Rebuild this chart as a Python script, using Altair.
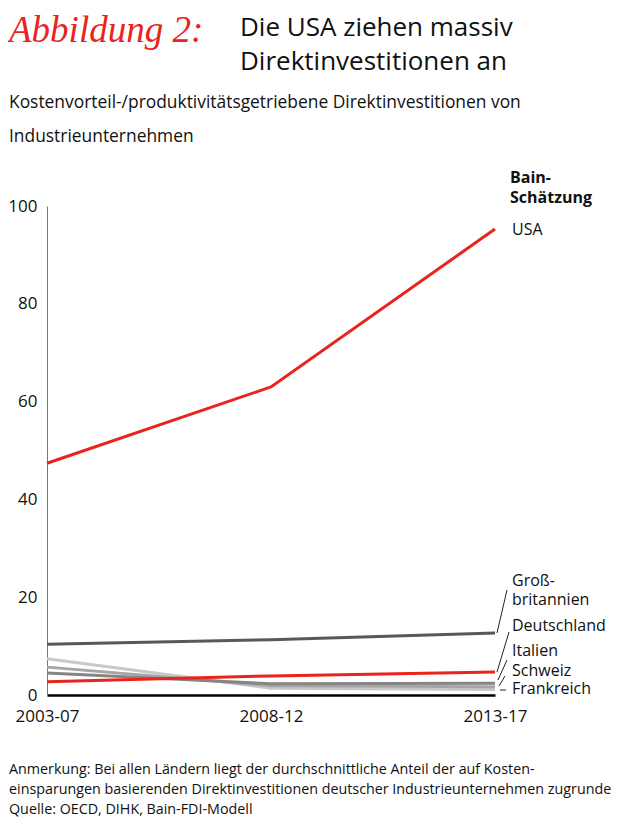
import altair as alt
import pandas as pd

periods = ["2003-07", "2008-12", "2013-17"]
series_names = ["USA", "Großbritannien", "Deutschland", "Italien", "Schweiz", "Frankreich"]
usa = [47.4, 63.0, 95.3]
grossbritannien = [10.4, 11.3, 12.7]
deutschland = [2.7, 3.9, 4.7]
italien = [4.5, 2.3, 2.4]
schweiz = [5.7, 1.9, 1.7]
frankreich = [7.4, 1.4, 1.1]
colors = ["#e8241c", "#595959", "#e8241c", "#858585", "#a6a6a6", "#c8c8c8"]
draw_order = [5, 3, 4, 2, 1, 0]

values = [usa, grossbritannien, deutschland, italien, schweiz, frankreich]

FONT = "Open Sans"
W, H = 448, 489

x_enc = alt.X("period:N", sort=periods,
              scale=alt.Scale(type="point", padding=0),
              axis=alt.Axis(title=None, labelAngle=0, ticks=False, labelPadding=13,
                            labelFontSize=17, labelFont=FONT, labelColor="#111",
                            domainColor="#000", domainWidth=2.5))
y_enc = alt.Y("value:Q", scale=alt.Scale(domain=[0, 100]),
              axis=alt.Axis(title=None, values=[0, 20, 40, 60, 80, 100], ticks=False,
                            grid=False, labelPadding=10, labelFontSize=17, labelFont=FONT,
                            labelColor="#111", domainColor="#777", domainWidth=1))

layers = []
for name, vals, col, order in sorted(zip(series_names, values, colors, draw_order), key=lambda t: t[3]):
    d = pd.DataFrame({"series": name, "period": periods, "value": vals})
    layers.append(alt.Chart(d).mark_line(strokeWidth=3, color=col).encode(x=x_enc, y=y_enc))

# right-side labels (pixel positions in plot coordinates)
lab_text = ["USA", "Groß-", "britannien", "Deutschland", "Italien", "Schweiz", "Frankreich"]
lab_y = [24, 375, 394, 420, 445, 465, 483]
labels = alt.Chart(pd.DataFrame({"t": lab_text, "py": lab_y})).mark_text(
    align="left", baseline="middle", font=FONT, fontSize=16, color="#111").encode(
    x=alt.value(465), y=alt.Y("py:Q", scale=None), text="t:N")

bain = alt.Chart(pd.DataFrame({"t": ["Bain-", "Schätzung"], "py": [-28, -8]})).mark_text(
    align="left", baseline="middle", font=FONT, fontSize=16, fontWeight="bold", color="#111").encode(
    x=alt.value(463), y=alt.Y("py:Q", scale=None), text="t:N")

leader = pd.DataFrame({
    "x1": [450, 450, 451, 452, 453],
    "y1": [427, 466, 474, 480, 484],
    "x2": [460, 462, 460, 458, 459],
    "y2": [384, 426, 454, 470, 484],
})
leaders = alt.Chart(leader).mark_rule(color="#222", strokeWidth=1).encode(
    x=alt.X("x1:Q", scale=None), y=alt.Y("y1:Q", scale=None),
    x2="x2:Q", y2="y2:Q")

abb = alt.Chart(pd.DataFrame({"t": ["Abbildung 2:"]})).mark_text(
    align="left", baseline="middle", font="Liberation Serif", fontStyle="italic", fontSize=37,
    color="#e8241c").encode(x=alt.value(-38), y=alt.value(-175), text="t:N")

title = alt.Chart(pd.DataFrame({"t": ["Die USA ziehen massiv", "Direktinvestitionen an"],
                                "py": [-178, -144]})).mark_text(
    align="left", baseline="middle", font=FONT, fontSize=26, color="#111").encode(
    x=alt.value(193), y=alt.Y("py:Q", scale=None), text="t:N")

subtitle = alt.Chart(pd.DataFrame({"t": ["Kostenvorteil-/produktivitätsgetriebene Direktinvestitionen von",
                                         "Industrieunternehmen"], "py": [-103, -69]})).mark_text(
    align="left", baseline="middle", font=FONT, fontSize=17.4, color="#111").encode(
    x=alt.value(-38), y=alt.Y("py:Q", scale=None), text="t:N")

foot = alt.Chart(pd.DataFrame({"t": [
    "Anmerkung: Bei allen Ländern liegt der durchschnittliche Anteil der auf Kosten-",
    "einsparungen basierenden Direktinvestitionen deutscher Industrieunternehmen zugrunde",
    "Quelle: OECD, DIHK, Bain-FDI-Modell"], "py": [564, 584, 604]})).mark_text(
    align="left", baseline="middle", font=FONT, fontSize=14.3, color="#111").encode(
    x=alt.value(-38), y=alt.Y("py:Q", scale=None), text="t:N")

chart = alt.layer(*layers, labels, bain, leaders, abb, title, subtitle, foot).properties(
    width=W, height=H,
    background="white",
    autosize=alt.AutoSizeParams(type="none"),
    padding={"left": 39, "top": 198, "right": 127, "bottom": 122},
).configure_view(stroke=None)

chart.save("out.html", embed_options={"renderer": "svg", "actions": False})
